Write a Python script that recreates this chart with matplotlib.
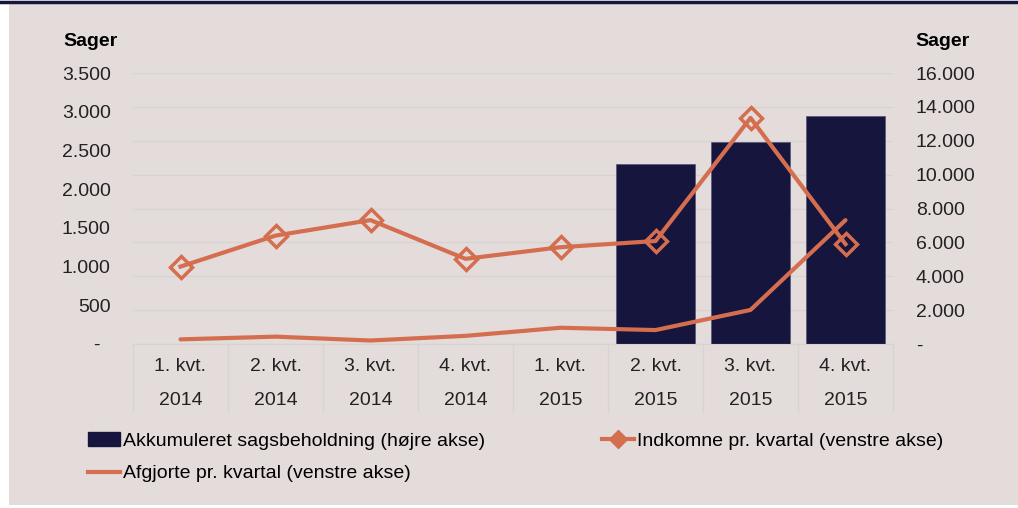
import numpy as np
import matplotlib
matplotlib.use("Agg")
import matplotlib.pyplot as plt
from matplotlib.ticker import FuncFormatter, FixedLocator
from matplotlib.lines import Line2D
from matplotlib.patches import Patch

# data
quarters = ["1. kvt.\n2014", "2. kvt.\n2014", "3. kvt.\n2014", "4. kvt.\n2014",
            "1. kvt.\n2015", "2. kvt.\n2015", "3. kvt.\n2015", "4. kvt.\n2015"]
beholdning = [0, 0, 0, 0, 0, 10600, 11900, 13450]      # right axis, bars
indkomne = [1000, 1400, 1600, 1100, 1250, 1330, 2920, 1290]   # left axis
afgjorte = [60, 95, 45, 105, 210, 180, 440, 1600]              # left axis

bg = "#e4dcdb"
navy = "#16153d"
orange = "#d46e4f"
grid_col = "#d8d3d3"
txt = "#222222"

plt.rcParams["font.family"] = ["Liberation Sans", "DejaVu Sans"]
plt.rcParams["font.size"] = 14

fig = plt.figure(figsize=(10.18, 5.08), dpi=100)
fig.patch.set_facecolor("white")
# panel background and top rule
fig.add_artist(plt.Rectangle((9 / 1018, 3 / 508), 1 - 9 / 1018, 1 - 7 / 508,
                             transform=fig.transFigure, facecolor=bg, edgecolor="none", zorder=-10))
fig.add_artist(Line2D([0, 1], [1 - 1.5 / 508, 1 - 1.5 / 508], transform=fig.transFigure,
                      color=navy, lw=2.5))

ax = fig.add_axes([133 / 1018, 1 - 344 / 508, 760 / 1018, 271 / 508])
ax2 = ax.twinx()
ax.set_facecolor("none")
ax2.set_facecolor("none")
ax.set_zorder(ax2.get_zorder() + 1)

x = np.arange(len(quarters))

ax2.bar(x, beholdning, width=0.84, color=navy, edgecolor="#55557a", linewidth=0.5)
ax2.set_ylim(0, 16000)
ax2.set_yticks(np.arange(0, 16001, 2000))
# both axes have 8 steps, so the grid can sit behind the bars on ax2
ax2.grid(axis="y", color=grid_col, lw=1)
ax2.set_axisbelow(True)

ax.plot(x, afgjorte, color=orange, lw=3, solid_capstyle="round")
ax.plot(x, indkomne, color=orange, lw=3, marker="D", markersize=11,
        mfc="none", mec=orange, mew=2.5)
ax.set_ylim(0, 3500)
ax.set_yticks(np.arange(0, 3501, 500))
ax.set_xlim(-0.5, len(quarters) - 0.5)

def dk(v, pos):
    if v == 0:
        return "-  "
    return f"{int(v):,}".replace(",", ".")

def dk_right(v, pos):
    if v == 0:
        return "-"
    return f"{int(v):,}".replace(",", ".")

ax.yaxis.set_major_formatter(FuncFormatter(dk))
ax2.yaxis.set_major_formatter(FuncFormatter(dk_right))

for a in (ax, ax2):
    for s in a.spines.values():
        s.set_visible(False)

ax.tick_params(axis="y", length=0, pad=16, labelcolor=txt)
ax2.tick_params(axis="y", length=0, pad=16.5, labelcolor=txt)

ax.set_xticks(x)
ax.set_xticklabels(quarters, linespacing=2.3)
ax.tick_params(axis="x", length=0, pad=10, labelcolor=txt)
ax.xaxis.set_minor_locator(FixedLocator(np.arange(-0.5, len(quarters), 1.0)))
ax.tick_params(axis="x", which="minor", length=49, color=grid_col, width=1, direction="out")

ax.spines["bottom"].set_visible(True)
ax.spines["bottom"].set_color(grid_col)

fig.text(90 / 1018, 1 - 41.5 / 508, "Sager", ha="center", va="center", fontweight="bold")
fig.text(942 / 1018, 1 - 41.5 / 508, "Sager", ha="center", va="center", fontweight="bold")

handles = [Patch(facecolor=navy, edgecolor=navy),
           Line2D([], [], color=orange, lw=3),
           Line2D([], [], color=orange, lw=3, marker="D", markersize=9, mfc=orange, mec=orange)]
labels = ["Akkumuleret sagsbeholdning (højre akse)",
          "Afgjorte pr. kvartal (venstre akse)",
          "Indkomne pr. kvartal (venstre akse)"]
fig.legend(handles, labels, ncol=2, loc="upper left", bbox_to_anchor=(88 / 1018, 1 - 432 / 508),
           frameon=False, handlelength=1.65, handletextpad=0.15, columnspacing=6.0,
           labelspacing=0.78, borderaxespad=0, borderpad=0)

fig.savefig("out.png", dpi=100, facecolor=fig.get_facecolor())
